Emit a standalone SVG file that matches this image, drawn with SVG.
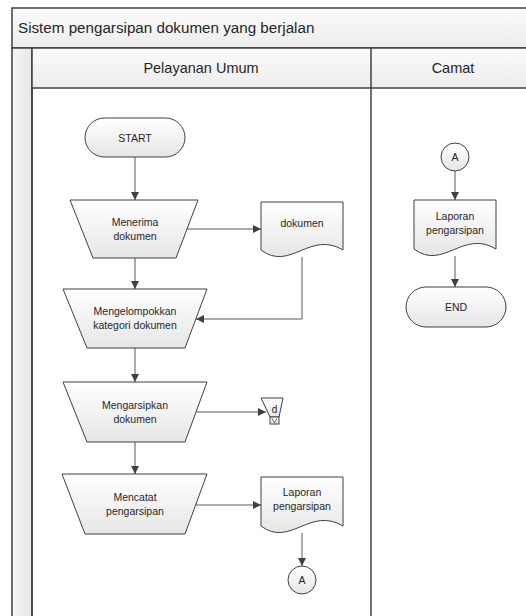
<svg xmlns="http://www.w3.org/2000/svg" width="526" height="616" viewBox="0 0 526 616">
<defs>
<linearGradient id="gNode" x1="0" y1="0" x2="0" y2="1">
<stop offset="0" stop-color="#ffffff"/>
<stop offset="1" stop-color="#e6e6e6"/>
</linearGradient>
<linearGradient id="gBar" x1="0" y1="0" x2="0" y2="1">
<stop offset="0" stop-color="#fbfbfb"/>
<stop offset="1" stop-color="#ececec"/>
</linearGradient>
<linearGradient id="gStrip" x1="0" y1="0" x2="1" y2="0">
<stop offset="0" stop-color="#f6f6f6"/>
<stop offset="1" stop-color="#e6e6e6"/>
</linearGradient>
<marker id="arr" viewBox="0 0 10 10" refX="10" refY="5" markerWidth="8" markerHeight="8" markerUnits="userSpaceOnUse" orient="auto">
<path d="M0,0 L10,5 L0,10 Z" fill="#404040"/>
</marker>
</defs>
<style>
.frame{stroke:#404040;stroke-width:1.5;}
.shape{fill:url(#gNode);stroke:#404040;stroke-width:1;}
.conn{fill:none;stroke:#595959;stroke-width:1;marker-end:url(#arr);}
text{font-family:"Liberation Sans",Arial,sans-serif;fill:#262626;}
.t{font-size:10.5px;text-anchor:middle;}
.h{font-size:14.5px;text-anchor:middle;}
</style>
<rect width="526" height="616" fill="#ffffff"/>
<g id="pool">
<rect x="12" y="8" width="523" height="40" fill="url(#gBar)" class="frame"/>
<text x="18" y="33" style="font-size:15.2px">Sistem pengarsipan dokumen yang berjalan</text>
<rect x="12" y="48" width="20" height="580" fill="url(#gStrip)" class="frame"/>
<rect x="32" y="48" width="503" height="40" fill="url(#gBar)" class="frame"/>
<line x1="32" y1="88" x2="32" y2="616" class="frame"/>
<line x1="371" y1="48" x2="371" y2="616" class="frame"/>
<text x="201" y="73" class="h">Pelayanan Umum</text>
<text x="453" y="73" class="h">Camat</text>
</g>
<g id="connectors">
<path d="M135,157 V200" class="conn"/>
<path d="M185,229 H261" class="conn"/>
<path d="M135,258 V289" class="conn"/>
<path d="M302,257 V319 H196" class="conn"/>
<path d="M135,348 V382" class="conn"/>
<path d="M196,412 H266" class="conn"/>
<path d="M135,442 V474" class="conn"/>
<path d="M196,505 H261" class="conn"/>
<path d="M302,533 V566" class="conn"/>
<path d="M455,171 V200" class="conn"/>
<path d="M455,256 V287" class="conn"/>
</g>
<g id="start">
<rect x="85" y="118" width="100" height="39" rx="19.5" class="shape"/>
<text x="135" y="141.5" class="t">START</text>
</g>
<g id="menerima">
<polygon points="70,200 198,200 176,258 93,258" class="shape"/>
<text x="135" y="226" class="t">Menerima</text>
<text x="135" y="240" class="t">dokumen</text>
</g>
<g id="dokumen">
<path d="M261,202 H343 V250 C310,230 290,272 261,250 Z" class="shape"/>
<text x="302" y="227" class="t">dokumen</text>
</g>
<g id="mengelompokkan">
<polygon points="63,289 207,289 185,348 87,348" class="shape"/>
<text x="135" y="315" class="t">Mengelompokkan</text>
<text x="135" y="329" class="t">kategori dokumen</text>
</g>
<g id="mengarsipkan">
<polygon points="63,382 207,382 185,442 87,442" class="shape"/>
<text x="135" y="409" class="t">Mengarsipkan</text>
<text x="135" y="423" class="t">dokumen</text>
</g>
<g id="arsip">
<polygon points="261,398 283,398 279,417 270,417" class="shape"/>
<rect x="270" y="417" width="9" height="7" class="shape"/>
<polyline points="272,418.5 274.5,423 277,418.5" fill="none" stroke="#404040" stroke-width="0.8"/>
<text x="274.5" y="413" style="font-size:10px;text-anchor:middle">d</text>
</g>
<g id="mencatat">
<polygon points="62,474 207,474 185,534 85,534" class="shape"/>
<text x="135" y="501" class="t">Mencatat</text>
<text x="135" y="515" class="t">pengarsipan</text>
</g>
<g id="laporan1">
<path d="M261,477 H343 V526 C310,506 290,548 261,526 Z" class="shape"/>
<text x="302" y="496" class="t">Laporan</text>
<text x="302" y="510" class="t">pengarsipan</text>
</g>
<g id="a1">
<circle cx="302" cy="580" r="14" class="shape"/>
<text x="302" y="584" class="t">A</text>
</g>
<g id="a2">
<circle cx="455" cy="157" r="14" class="shape"/>
<text x="455" y="161" class="t">A</text>
</g>
<g id="laporan2">
<path d="M414,200 H496 V249 C463,229 443,271 414,249 Z" class="shape"/>
<text x="455" y="220" class="t">Laporan</text>
<text x="455" y="234" class="t">pengarsipan</text>
</g>
<g id="end">
<rect x="406" y="287" width="100" height="40" rx="20" class="shape"/>
<text x="456" y="311" class="t">END</text>
</g>
</svg>
